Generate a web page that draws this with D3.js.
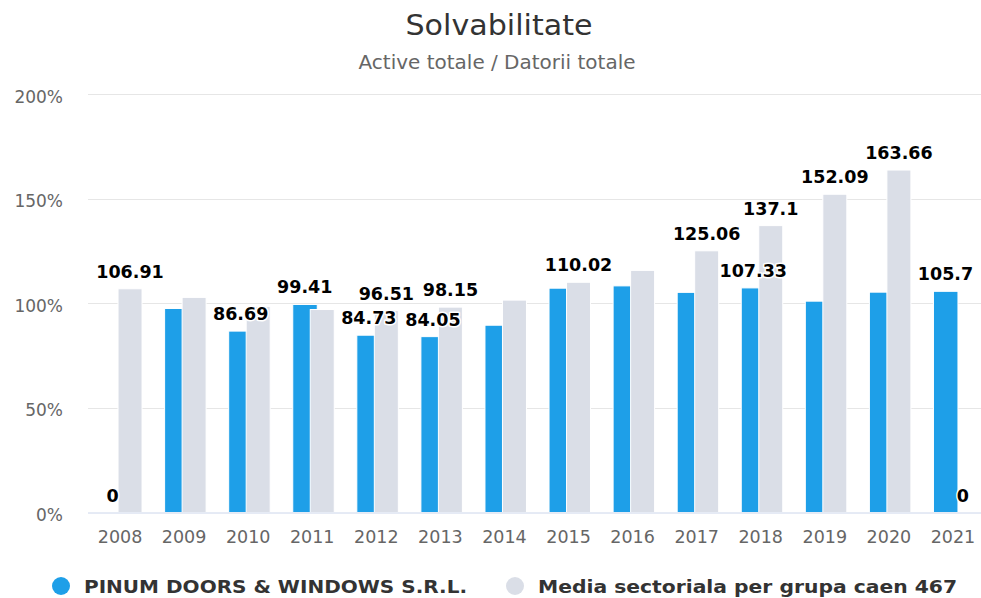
<!DOCTYPE html>
<meta charset="utf-8">
<head>
    <title>Solvabilitate</title>
    <style>
        body { margin: 0; background: #fff; }
        svg { display: block; font-family: "DejaVu Sans", Verdana, sans-serif; }
        .grid line { stroke: #e6e6e6; }
        .lbl { font-weight: bold; fill: #000; stroke: #fff; stroke-width: 3px; paint-order: stroke; stroke-linejoin: round; }
    </style>
</head>
<body>
<script src="https://d3js.org/d3.v7.min.js"></script>
<script>
    // data
    var years = ["2008", "2009", "2010", "2011", "2012", "2013", "2014", "2015", "2016", "2017", "2018", "2019", "2020", "2021"];
    var firmValues = [0, 97.5, 86.69, 99.41, 84.73, 84.05, 89.5, 107.2, 108.3, 105.2, 107.33, 101, 105.3, 105.7];
    var sectorValues = [106.91, 102.8, 98.5, 97, 96.51, 98.15, 101.5, 110.02, 115.7, 125.06, 137.1, 152.09, 163.66, 0];
    // which data labels the chart actually shows (the rest were hidden as overlapping)
    var firmShown = ["2008", "2010", "2011", "2012", "2013", "2018", "2021"];
    var sectorShown = ["2008", "2012", "2013", "2015", "2017", "2018", "2019", "2020", "2021"];
    var yTicks = [0, 50, 100, 150, 200];
    var seriesNames = ["PINUM DOORS & WINDOWS S.R.L.", "Media sectoriala per grupa caen 467"];
    var colors = ["#1e9fe8", "#dadee7"];

    var width = 981, height = 598;
    var plotLeft = 88, plotRight = 985, plotTop = 94, plotBottom = 512.5;

    var svg = d3.select("body").append("svg")
        .attr("width", width)
        .attr("height", height);

    var x = d3.scaleBand().domain(years).range([plotLeft, plotRight]);
    var y = d3.scaleLinear().domain([0, 200]).range([plotBottom, plotTop]);
    var step = x.bandwidth();

    // title
    svg.append("text")
        .attr("x", 499).attr("y", 35)
        .attr("text-anchor", "middle")
        .style("font-size", "28px")
        .attr("fill", "#333")
        .attr("textLength", 187).attr("lengthAdjust", "spacingAndGlyphs")
        .text("Solvabilitate");
    svg.append("text")
        .attr("x", 497).attr("y", 69)
        .attr("text-anchor", "middle")
        .style("font-size", "19px")
        .attr("fill", "#666")
        .attr("textLength", 277).attr("lengthAdjust", "spacingAndGlyphs")
        .text("Active totale / Datorii totale");

    // gridlines
    svg.append("g").attr("class", "grid")
        .selectAll("line")
        .data(yTicks.filter(function(d) { return d > 0; }))
        .enter().append("line")
        .attr("x1", plotLeft).attr("x2", width)
        .attr("y1", function(d) { return Math.round(y(d)) + 0.5; })
        .attr("y2", function(d) { return Math.round(y(d)) + 0.5; });

    // y axis labels
    svg.append("g")
        .selectAll("text")
        .data(yTicks)
        .enter().append("text")
        .attr("x", 63)
        .attr("y", function(d) { return y(d) + 8.5; })
        .attr("text-anchor", "end")
        .style("font-size", "17px")
        .attr("fill", "#666")
        .text(function(d) { return d + "%"; });

    // bars
    var firmX = function(d) { return x(d) + step / 2 - 19.5; };
    var sectorX = function(d) { return x(d) + step / 2 - 2; };

    svg.append("g")
        .selectAll("rect")
        .data(years)
        .enter().append("rect")
        .attr("x", firmX)
        .attr("width", 24.5)
        .attr("y", function(d, i) { return y(firmValues[i]); })
        .attr("height", function(d, i) { return plotBottom - y(firmValues[i]); })
        .attr("fill", colors[0])
        .attr("stroke", "#fff")
        .attr("stroke-width", 1);

    svg.append("g")
        .selectAll("rect")
        .data(years)
        .enter().append("rect")
        .attr("x", sectorX)
        .attr("width", 24)
        .attr("y", function(d, i) { return y(sectorValues[i]); })
        .attr("height", function(d, i) { return plotBottom - y(sectorValues[i]); })
        .attr("fill", colors[1])
        .attr("stroke", "#fff")
        .attr("stroke-width", 1);

    // x axis line
    svg.append("line")
        .attr("x1", plotLeft).attr("x2", width)
        .attr("y1", plotBottom + 0.5).attr("y2", plotBottom + 0.5)
        .attr("stroke", "#ccd6eb");

    // x axis labels
    svg.append("g")
        .selectAll("text")
        .data(years)
        .enter().append("text")
        .attr("x", function(d) { return x(d) + step / 2; })
        .attr("y", 543)
        .attr("text-anchor", "middle")
        .style("font-size", "17.5px")
        .attr("fill", "#666")
        .text(function(d) { return d; });

    // data labels
    svg.append("g")
        .selectAll("text")
        .data(years.filter(function(d) { return firmShown.indexOf(d) >= 0; }))
        .enter().append("text")
        .attr("class", "lbl")
        .attr("x", function(d) { return firmX(d) + 12; })
        .attr("y", function(d) { return y(firmValues[years.indexOf(d)]) - 11; })
        .attr("text-anchor", "middle")
        .style("font-size", "17.5px")
        .text(function(d) { return firmValues[years.indexOf(d)]; });

    svg.append("g")
        .selectAll("text")
        .data(years.filter(function(d) { return sectorShown.indexOf(d) >= 0; }))
        .enter().append("text")
        .attr("class", "lbl")
        .attr("x", function(d) { return sectorX(d) + 12; })
        .attr("y", function(d) { return y(sectorValues[years.indexOf(d)]) - 11; })
        .attr("text-anchor", "middle")
        .style("font-size", "17.5px")
        .text(function(d) { return sectorValues[years.indexOf(d)]; });

    // legend
    var legendX = [61, 515];
    var legendLen = [383, 419];
    var legend = svg.append("g");
    seriesNames.forEach(function(name, i) {
        legend.append("circle")
            .attr("cx", legendX[i]).attr("cy", 586)
            .attr("r", 9)
            .attr("fill", colors[i]);
        legend.append("text")
            .attr("x", legendX[i] + 23).attr("y", 593)
            .style("font-size", "17.5px")
            .style("font-weight", "bold")
            .attr("fill", "#333")
            .attr("textLength", legendLen[i]).attr("lengthAdjust", "spacingAndGlyphs")
            .text(name);
    });
</script>
</body>
</html>
